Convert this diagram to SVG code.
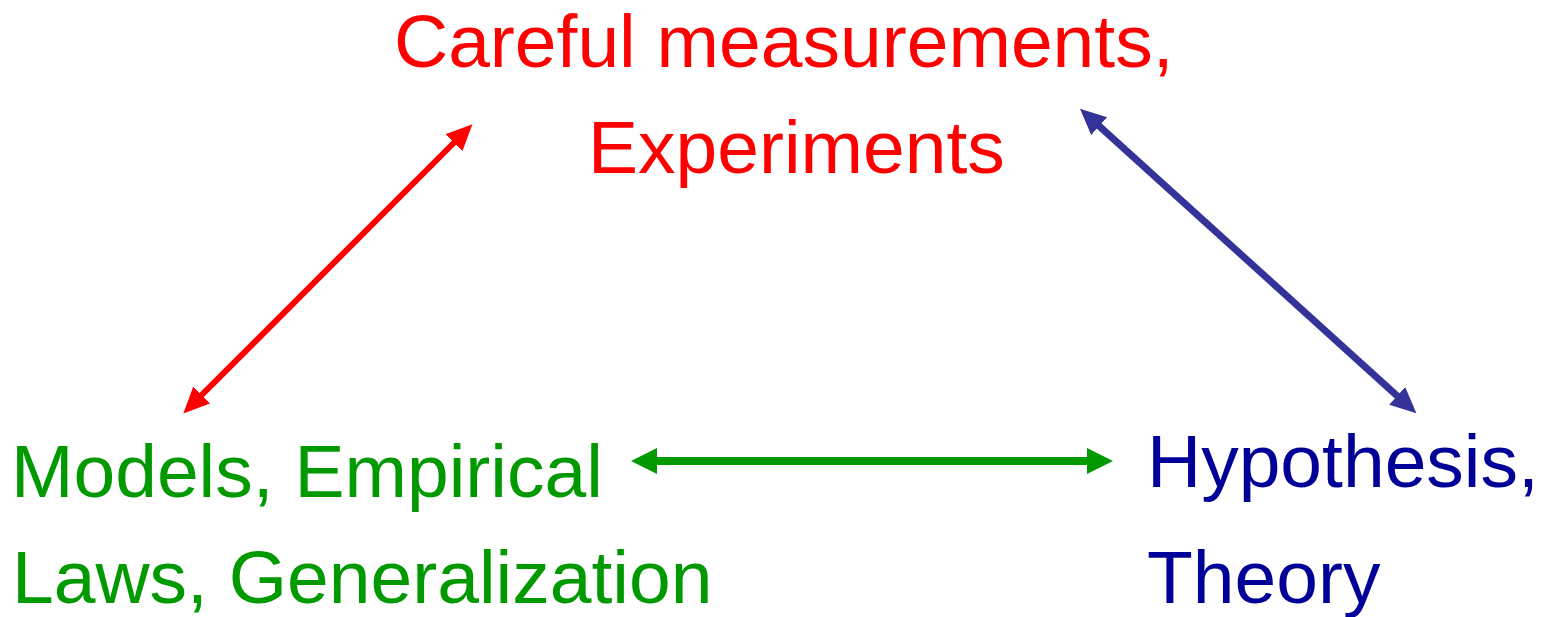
<svg xmlns="http://www.w3.org/2000/svg" width="1544" height="617" viewBox="0 0 1544 617">
<style>
text { font-family: "Liberation Sans", Arial, sans-serif; font-size: 75px; }
.red { fill: #ff0000; }
.green { fill: #009900; }
.blue { fill: #000099; }
.conn { fill: none; }
</style>
<defs>
<marker id="ar" markerUnits="userSpaceOnUse" markerWidth="26" markerHeight="24" refX="12" refY="11" orient="auto-start-reverse" viewBox="0 0 24 22"><path d="M0,0 L24,11 L0,22 z" fill="#ff0000"/></marker>
<marker id="ab" markerUnits="userSpaceOnUse" markerWidth="26" markerHeight="24" refX="12" refY="11" orient="auto-start-reverse" viewBox="0 0 24 22"><path d="M0,0 L24,11 L0,22 z" fill="#333399"/></marker>
<marker id="ag" markerUnits="userSpaceOnUse" markerWidth="26" markerHeight="26" refX="12" refY="12" orient="auto-start-reverse" viewBox="0 0 24 24"><path d="M0,0 L24,12 L0,24 z" fill="#009900"/></marker>
</defs>
<rect width="1544" height="617" fill="#ffffff"/>
<g id="connectors">
<line class="conn" x1="192.5" y1="404.2" x2="463.2" y2="133.5" stroke="#ff0000" stroke-width="6" marker-start="url(#ar)" marker-end="url(#ar)"/>
<line class="conn" x1="1089.6" y1="117.4" x2="1406.8" y2="404.6" stroke="#333399" stroke-width="7" marker-start="url(#ab)" marker-end="url(#ab)"/>
<line class="conn" x1="644" y1="461" x2="1100" y2="461" stroke="#009900" stroke-width="8" marker-start="url(#ag)" marker-end="url(#ag)"/>
</g>
<g id="experiments">
<text class="red" x="394" y="67">Careful measurements,</text>
<text class="red" x="588" y="173">Experiments</text>
</g>
<g id="models">
<text class="green" x="11" y="497">Models, Empirical</text>
<text class="green" x="12" y="603">Laws, Generalization</text>
</g>
<g id="hypothesis">
<text class="blue" x="1147" y="487">Hypothesis,</text>
<text class="blue" x="1147" y="603">Theory</text>
</g>
</svg>
